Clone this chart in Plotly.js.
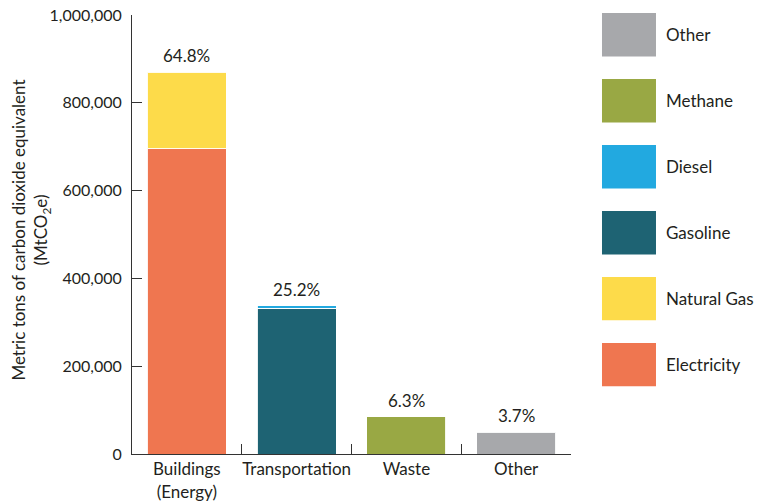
<!DOCTYPE html>
<html>
<head>
<meta charset="utf-8">
<script src="https://cdn.plot.ly/plotly-3.0.1.min.js"></script>
<style>html,body{margin:0;padding:0;background:#fff;}#chart{width:769px;height:503px;}</style>
</head>
<body>
<div id="chart"></div>
<script>
// Data
const categories = ['Buildings<br>(Energy)', 'Transportation', 'Waste', 'Other'];
const electricity = [695000, 0, 0, 0];
const naturalGas  = [175000, 0, 0, 0];
const gasoline    = [0, 332000, 0, 0];
const diesel      = [0, 6000, 0, 0];
const methane     = [0, 0, 85000, 0];
const otherSrc    = [0, 0, 0, 49000];
const percents    = ['64.8%', '25.2%', '6.3%', '3.7%'];

const seriesNames  = ['Electricity', 'Natural Gas', 'Gasoline', 'Diesel', 'Methane', 'Other'];
const seriesValues = [electricity, naturalGas, gasoline, diesel, methane, otherSrc];
const seriesColors = ['#EF7650', '#FDDB4A', '#1E6373', '#22A9E0', '#99A844', '#A7A8AB'];
const legendOrder  = ['Other', 'Methane', 'Diesel', 'Gasoline', 'Natural Gas', 'Electricity'];
const yTitle = 'Metric tons of carbon dioxide equivalent<br>(MtCO<sub>2</sub>e)';

const FONT = 'Lato, "Open Sans", sans-serif';
const TXT = '#231f20';

const traces = seriesNames.map((n, i) => ({
  type: 'bar',
  name: n,
  x: categories,
  y: seriesValues[i].map(v => v === 0 ? null : v),
  width: 0.72,
  marker: {color: seriesColors[i], line: {color: 'rgba(255,255,255,0.9)', width: 1}},
  hoverinfo: 'name+y',
  showlegend: false
}));

const totals = categories.map((c, j) => seriesValues.reduce((s, arr) => s + arr[j], 0));

const annotations = categories.map((c, j) => ({
  x: c, y: totals[j], xref: 'x', yref: 'y',
  text: percents[j], showarrow: false, yanchor: 'bottom', yshift: 4,
  font: {family: FONT, size: 17, color: TXT}
}));

annotations.push({
  xref: 'paper', yref: 'paper', x: -0.2289, y: 0.51, xanchor: 'center', yanchor: 'middle',
  textangle: -90, text: yTitle, showarrow: false,
  font: {family: FONT, size: 17, color: TXT}
});

const shapes = [];
const sqX0 = 1.0706, sqX1 = 1.1936, sqTop = 1.0046, sqH = 0.0990, sqStep = 0.1503;
legendOrder.forEach((n, k) => {
  const col = seriesColors[seriesNames.indexOf(n)];
  const top = sqTop - k * sqStep;
  shapes.push({type: 'rect', xref: 'paper', yref: 'paper', x0: sqX0, x1: sqX1, y0: top - sqH, y1: top,
    fillcolor: col, line: {width: 0}});
  annotations.push({xref: 'paper', yref: 'paper', x: 1.2118, y: top - sqH / 2, xanchor: 'left', yanchor: 'middle',
    text: n, showarrow: false, font: {family: FONT, size: 17, color: TXT}});
});

const layout = {
  width: 769, height: 503,
  margin: {l: 132, r: 198, t: 15, b: 49},
  paper_bgcolor: '#fff', plot_bgcolor: '#fff',
  barmode: 'stack',
  bargap: 0.28,
  xaxis: {
    type: 'category',
    range: [-0.5, 3.5],
    showline: true, linecolor: '#333', linewidth: 1,
    ticks: 'inside', tickson: 'boundaries', ticklen: 10, tickcolor: '#333', tickwidth: 1,
    tickangle: 0, automargin: false,
    showgrid: false, zeroline: false,
    tickfont: {family: FONT, size: 17, color: TXT}
  },
  yaxis: {
    range: [0, 1000000],
    dtick: 200000, tickformat: ',d',
    showline: true, linecolor: '#333', linewidth: 1,
    ticks: 'inside', ticklen: 10, tickcolor: '#333', tickwidth: 1,
    ticklabelstandoff: 6, automargin: false,
    showgrid: false, zeroline: false,
    tickfont: {family: FONT, size: 16, color: TXT}
  },
  annotations: annotations,
  shapes: shapes,
  font: {family: FONT, color: TXT}
};

Plotly.newPlot('chart', traces, layout, {displayModeBar: false, staticPlot: true});
</script>
</body>
</html>
